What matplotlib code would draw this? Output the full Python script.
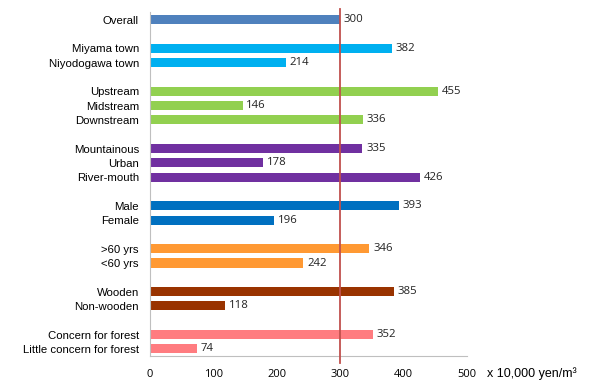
import matplotlib
matplotlib.use('Agg')
from matplotlib import pyplot as plt
import numpy as np

# ---------------------------------------------------
labels = ['Overall',
          'Miyama town', 'Niyodogawa town',
          'Upstream', 'Midstream', 'Downstream',
          'Mountainous', 'Urban', 'River-mouth',
          'Male', 'Female',
          '>60 yrs', '<60 yrs',
          'Wooden', 'Non-wooden',
          'Concern for forest', 'Little concern for forest']
values = [300,
          382, 214,
          455, 146, 336,
          335, 178, 426,
          393, 196,
          346, 242,
          385, 118,
          352, 74]
group_sizes = [1, 2, 3, 3, 2, 2, 2, 2]
group_colors = ['#4F81BD', '#00B0F0', '#92D050', '#7030A0',
                '#0070C0', '#FF9933', '#993300', '#FF7C80']
ticks = [0, 100, 200, 300, 400, 500]
ref_value = 300
# ---------------------------------------------------

# slot positions, one empty slot between groups
pos = []
colors = []
slot = 0
for n, c in zip(group_sizes, group_colors):
    for i in range(n):
        pos.append(slot)
        colors.append(c)
        slot += 1
    slot += 1

fig = plt.figure(figsize=(6, 3.82), dpi=100)
ax = fig.add_axes([0.25, 0.068, 0.528, 0.901])

bars = ax.barh(pos, values, height=0.63, color=colors)
for bar, v in zip(bars, values):
    ax.text(bar.get_width() + 6, bar.get_y() + bar.get_height() / 2, str(v),
            va='center', ha='left', fontsize=8.2, family='Open Sans', color='#222222')

ax.axvline(ref_value, ymin=-0.02, ymax=1.007, color='#C0504D', lw=1.3, clip_on=False, zorder=3)

ax.set_xlim(0, 500)
ax.set_ylim(23.5, -0.55)
ax.set_yticks(pos)
ax.set_yticklabels(labels, fontsize=8.2, family='Liberation Sans')
ax.set_xticks(ticks)
ax.set_xticklabels([str(t) for t in ticks], fontsize=8, family='Open Sans')
ax.tick_params(axis='y', length=0, pad=8)
ax.tick_params(axis='x', length=0, pad=9)

for s in ['top', 'right']:
    ax.spines[s].set_visible(False)
ax.spines['left'].set_color('#BFBFBF')
ax.spines['bottom'].set_color('#BFBFBF')

fig.text(0.812, 0.021, 'x 10,000 yen/m\u00b3', fontsize=9, family='Liberation Sans', ha='left', va='center')

plt.savefig('out.png', dpi=100)
